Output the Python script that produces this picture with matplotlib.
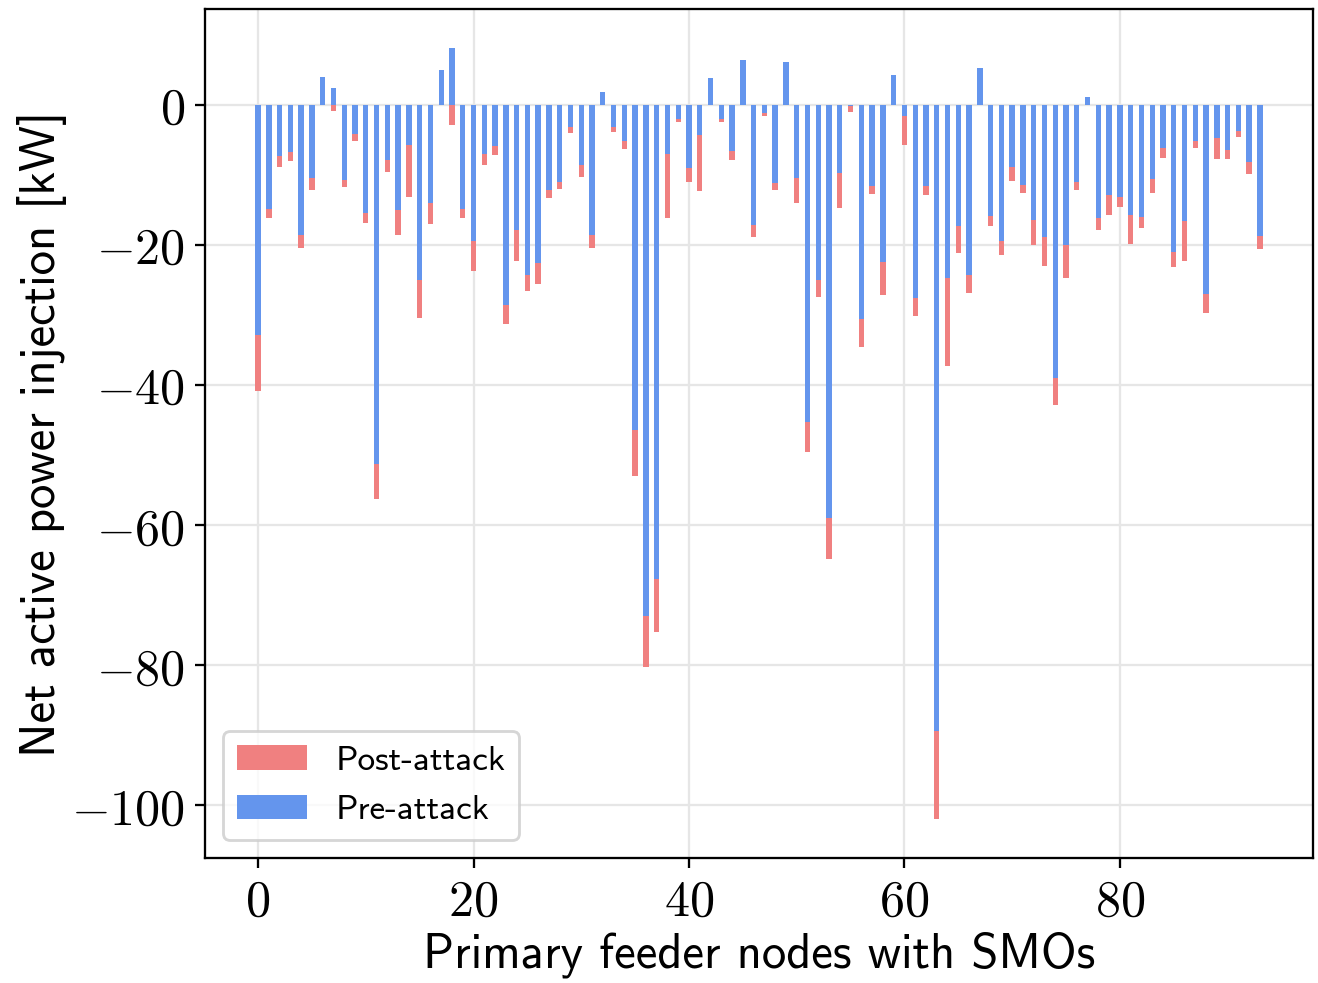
import matplotlib
matplotlib.use("Agg")
import matplotlib.pyplot as plt
from matplotlib.ticker import FuncFormatter
import numpy as np

pre_attack = [
    -32.9, -14.8, -7.3, -6.7, -18.5, -10.4, 4.0, 2.5, -10.7, -4.2,
    -15.4, -51.3, -7.8, -15.0, -5.7, -25.0, -14.0, 5.0, 8.2, -14.8,
    -19.4, -7.0, -5.9, -28.5, -17.9, -24.2, -22.5, -12.1, -11.0, -3.1,
    -8.5, -18.6, 1.9, -3.2, -5.1, -46.4, -72.9, -67.7, -7.0, -2.0,
    -9.0, -4.3, 3.9, -2.0, -6.5, 6.4, -17.1, -1.2, -11.1, 6.2,
    -10.4, -45.2, -25.0, -58.9, -9.7, -0.2, -30.5, -11.6, -22.4, 4.3,
    -1.5, -27.5, -11.5, -89.4, -24.7, -17.3, -24.3, 5.3, -15.8, -19.4,
    -8.9, -11.4, -16.4, -18.9, -39.0, -20.0, -11.0, 1.1, -16.1, -12.9,
    -13.2, -15.7, -16.0, -10.6, -6.1, -21.0, -16.5, -5.1, -27.0, -4.7,
    -6.4, -3.7, -8.2, -18.7]

post_attack = [
    -40.8, -16.2, -8.9, -8.0, -20.4, -12.2, 4.0, -0.86, -11.7, -5.2,
    -16.9, -56.3, -9.5, -18.6, -13.1, -30.4, -17.0, 5.0, -2.8, -16.1,
    -23.7, -8.6, -7.2, -31.3, -22.2, -26.5, -25.6, -13.3, -12.0, -4.0,
    -10.3, -20.4, 1.9, -3.8, -6.3, -52.9, -80.2, -75.3, -16.2, -2.4,
    -11.0, -12.3, 3.9, -2.4, -7.9, 6.4, -18.8, -1.6, -12.2, 6.2,
    -14.0, -49.6, -27.4, -64.8, -14.7, -0.95, -34.5, -12.7, -27.1, 4.3,
    -5.7, -30.1, -12.8, -102.0, -37.3, -21.1, -26.8, 5.3, -17.3, -21.4,
    -10.8, -12.5, -20.0, -23.0, -42.8, -24.7, -12.1, 1.1, -17.8, -15.7,
    -14.5, -19.9, -17.5, -12.5, -7.5, -23.1, -22.2, -6.2, -29.7, -7.7,
    -7.7, -4.5, -9.9, -20.5]

nodes = np.arange(len(pre_attack))

plt.rcParams['mathtext.fontset'] = 'cm'

dpi = 206
fig = plt.figure(figsize=(1318 / dpi, 983 / dpi), dpi=dpi)
ax = fig.add_axes([205 / 1318, 1 - 858 / 983, (1313 - 205) / 1318, (858 - 9) / 983])

ax.bar(nodes, post_attack, width=0.5, color='lightcoral', label='Post-attack', zorder=2)
ax.bar(nodes, pre_attack, width=0.5, color='cornflowerblue', label='Pre-attack', zorder=3)

ax.grid(True, color='#e6e6e6', linewidth=0.8, zorder=0)
ax.set_axisbelow(True)

fmt = FuncFormatter(lambda v, p: r'$%d$' % int(round(v)))
ax.xaxis.set_major_formatter(fmt)
ax.yaxis.set_major_formatter(fmt)
ax.tick_params(labelsize=17.5)

ax.set_xlabel('Primary feeder nodes with SMOs', family='cmss10', fontsize=17, labelpad=2)
ax.set_ylabel('Net active power injection [kW]', family='cmss10', fontsize=17, labelpad=1.5)

leg = ax.legend(loc='lower left', prop={'family': 'cmss10', 'size': 12.3})

fig.savefig('out.png', dpi=dpi)
